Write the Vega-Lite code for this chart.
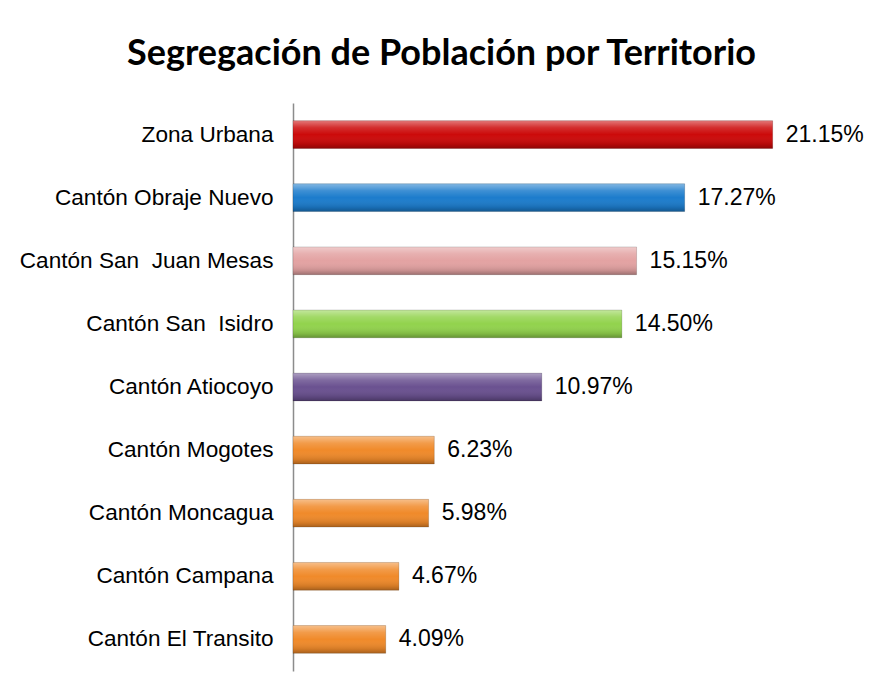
{
  "$schema": "https://vega.github.io/schema/vega-lite/v6.json",
  "autosize": {"type": "none"},
  "padding": {"left": 293, "top": 103, "right": 12, "bottom": 19},
  "width": 567,
  "height": 568,
  "background": "white",
  "view": {"stroke": null},
  "title": {
    "text": "Segregación de Población por Territorio",
    "font": "Lato",
    "fontSize": 36,
    "fontWeight": "bold",
    "color": "#000000",
    "anchor": "middle",
    "frame": "bounds",
    "offset": 30
  },
  "data": {
    "values": [
      {"territorio": "Zona Urbana", "pct": 0.2115},
      {"territorio": "Cantón Obraje Nuevo", "pct": 0.1727},
      {"territorio": "Cantón San  Juan Mesas", "pct": 0.1515},
      {"territorio": "Cantón San  Isidro", "pct": 0.1450},
      {"territorio": "Cantón Atiocoyo", "pct": 0.1097},
      {"territorio": "Cantón Mogotes", "pct": 0.0623},
      {"territorio": "Cantón Moncagua", "pct": 0.0598},
      {"territorio": "Cantón Campana", "pct": 0.0467},
      {"territorio": "Cantón El Transito", "pct": 0.0409}
    ]
  },
  "encoding": {
    "y": {
      "field": "territorio",
      "type": "nominal",
      "sort": null,
      "scale": {"paddingInner": 0.56, "paddingOuter": 0.28},
      "axis": {
        "title": null,
        "domain": true,
        "domainColor": "#8c8c8c",
        "domainWidth": 1.5,
        "ticks": false,
        "labelFont": "Liberation Sans",
        "labelFontSize": 22.6,
        "labelColor": "#000000",
        "labelPadding": 20,
        "labelLimit": 300,
        "labelExpr": "replace(datum.label, '  ', ' \u00a0')"
      }
    },
    "x": {
      "field": "pct",
      "type": "quantitative",
      "scale": {"domain": [0, 0.25], "nice": false},
      "axis": null
    }
  },
  "layer": [
    {
      "mark": {"type": "bar", "cornerRadius": 0},
      "encoding": {
        "color": {
          "field": "territorio",
          "type": "nominal",
          "legend": null,
          "scale": {
            "domain": ["Zona Urbana", "Cantón Obraje Nuevo", "Cantón San  Juan Mesas", "Cantón San  Isidro", "Cantón Atiocoyo", "Cantón Mogotes", "Cantón Moncagua", "Cantón Campana", "Cantón El Transito"],
            "range": ["#cc0a0a", "#1c7ccc", "#e3a2a2", "#92d34d", "#6a5190", "#f08a2a", "#f08a2a", "#f08a2a", "#f08a2a"]
          }
        }
      }
    },
    {
      "mark": {
        "type": "bar",
        "fill": {
          "gradient": "linear",
          "x1": 0, "y1": 0, "x2": 0, "y2": 1,
          "stops": [
            {"offset": 0, "color": "rgba(255,255,255,0.45)"},
            {"offset": 0.25, "color": "rgba(255,255,255,0.15)"},
            {"offset": 0.5, "color": "rgba(255,255,255,0)"},
            {"offset": 0.85, "color": "rgba(0,0,0,0.12)"},
            {"offset": 1, "color": "rgba(0,0,0,0.3)"}
          ]
        },
        "stroke": "rgba(0,0,0,0.15)",
        "strokeWidth": 1
      }
    },
    {
      "mark": {
        "type": "text",
        "align": "left",
        "baseline": "middle",
        "dx": 13,
        "font": "Liberation Sans",
        "fontSize": 23,
        "color": "#000000"
      },
      "encoding": {
        "text": {"field": "pct", "type": "quantitative", "format": ".2%"}
      }
    }
  ]
}
